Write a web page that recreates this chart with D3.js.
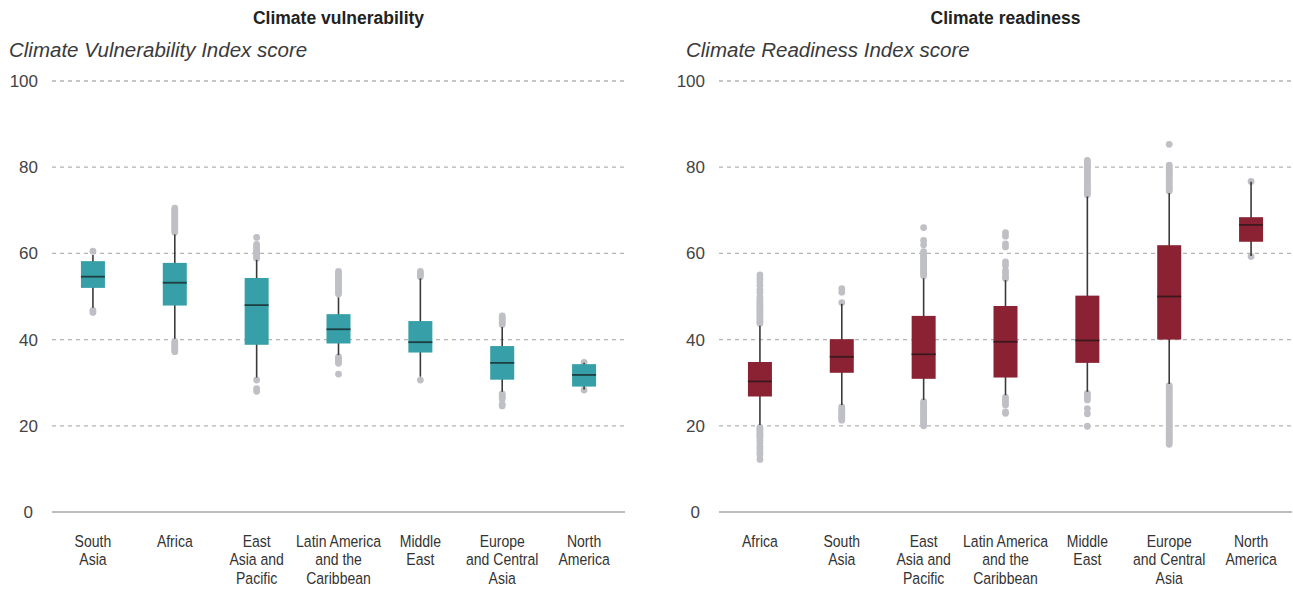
<!DOCTYPE html>
<html>
<head>
<meta charset="utf-8">
<script src="https://cdn.jsdelivr.net/npm/d3@7"></script>
<style>
  body { margin: 0; background: #fff; }
  svg { display: block; }
</style>
</head>
<body>
<svg id="chart" width="1293" height="590"></svg>
<script>
// ---------- DATA ----------
const vulnCategories = ["South Asia", "Africa", "East Asia and Pacific", "Latin America and the Caribbean", "Middle East", "Europe and Central Asia", "North America"];
const vulnLabels = [["South", "Asia"], ["Africa"], ["East", "Asia and", "Pacific"], ["Latin America", "and the", "Caribbean"], ["Middle", "East"], ["Europe", "and Central", "Asia"], ["North", "America"]];
const vulnQ1 =     [52.0, 47.9, 38.8, 39.1, 37.0, 30.7, 29.1];
const vulnMedian = [54.6, 53.2, 48.0, 42.4, 39.4, 34.6, 31.8];
const vulnQ3 =     [58.2, 57.8, 54.3, 45.9, 44.3, 38.5, 34.3];
const vulnLow =    [47.4, 40.2, 31.2, 36.4, 31.4, 27.9, 28.4];
const vulnHigh =   [59.6, 64.4, 58.5, 49.8, 54.2, 42.9, 34.6];
const vulnOutliers = [
  [60.5, 46.8, 46.3],
  [64.9, 65.3, 65.7, 66.1, 66.5, 66.9, 67.3, 67.7, 68.1, 68.5, 68.9, 69.3, 69.7, 70.1, 70.5, 39.6, 39.2, 38.8, 38.4, 38.0, 37.6, 37.2],
  [63.7, 62.1, 61.7, 61.3, 60.9, 60.5, 60.1, 59.7, 59.3, 58.9, 30.6, 28.6, 28.0],
  [55.8, 55.4, 55.0, 54.6, 54.2, 53.8, 53.4, 53.0, 52.6, 52.2, 51.8, 51.4, 51.0, 50.6, 36.0, 35.6, 35.2, 34.8, 34.5, 32.0],
  [55.8, 55.4, 55.0, 54.6, 30.6],
  [45.5, 45.1, 44.7, 44.3, 43.9, 43.5, 27.4, 27.0, 26.6, 26.2, 25.0, 24.6],
  [34.7, 28.3]
];

const readCategories = ["Africa", "South Asia", "East Asia and Pacific", "Latin America and the Caribbean", "Middle East", "Europe and Central Asia", "North America"];
const readLabels = [["Africa"], ["South", "Asia"], ["East", "Asia and", "Pacific"], ["Latin America", "and the", "Caribbean"], ["Middle", "East"], ["Europe", "and Central", "Asia"], ["North", "America"]];
const readQ1 =     [26.8, 32.3, 30.9, 31.2, 34.6, 40.0, 62.7];
const readMedian = [30.3, 36.0, 36.6, 39.5, 39.8, 50.0, 66.6];
const readQ3 =     [34.8, 40.1, 45.5, 47.8, 50.2, 61.9, 68.4];
const readLow =    [20.2, 24.8, 26.0, 27.1, 27.9, 29.7, 59.4];
const readHigh =   [43.2, 48.3, 54.2, 53.8, 73.2, 74.0, 76.6];
const readOutliers = [
  [43.8, 44.2, 44.6, 45.0, 45.4, 45.8, 46.2, 46.6, 47.0, 47.4, 47.8, 48.2, 48.6, 49.0, 49.4, 50.0, 51.0, 51.6, 52.6, 53.4, 54.2, 55.0,
   19.6, 19.2, 18.8, 18.4, 18.0, 17.6, 17.2, 16.6, 16.0, 15.2, 14.6, 13.8, 13.2, 12.2],
  [51.8, 51.0, 48.6, 24.4, 24.0, 23.6, 23.2, 22.8, 22.4, 22.0, 21.6, 21.3],
  [66.0, 63.0, 62.0, 60.4, 60.0, 59.6, 59.2, 58.8, 58.4, 58.0, 57.6, 57.2, 56.8, 56.4, 56.0, 55.6, 55.2, 54.8,
   25.6, 25.2, 24.8, 24.4, 24.0, 23.6, 23.2, 22.8, 22.4, 22.0, 21.6, 21.2, 20.8, 20.4, 20.0],
  [64.8, 64.0, 62.2, 61.5, 58.0, 57.2, 56.0, 55.4, 54.6, 54.2, 26.6, 26.0, 25.4, 24.8, 23.2, 22.9],
  [81.6, 81.2, 80.8, 80.4, 80.0, 79.6, 79.2, 78.8, 78.4, 78.0, 77.6, 77.2, 76.8, 76.4, 76.0, 75.6, 75.2, 74.8, 74.4, 74.0, 73.6,
   27.5, 27.0, 26.5, 26.0, 24.0, 22.8, 19.9],
  [85.3, 80.5, 80.1, 79.7, 79.3, 78.9, 78.5, 78.1, 77.7, 77.3, 76.9, 76.5, 76.1, 75.7, 75.3, 74.9, 74.5,
   29.3, 28.9, 28.5, 28.1, 27.7, 27.3, 26.9, 26.5, 26.1, 25.7, 25.3, 24.9, 24.5, 24.1, 23.7, 23.3, 22.9, 22.5, 22.1, 21.7, 21.3, 20.9, 20.5, 20.1, 19.7, 19.3, 18.9, 18.5, 18.1, 17.7, 17.3, 16.9, 16.5, 16.1, 15.7],
  [76.7, 59.3]
];

const yTicks = [0, 20, 40, 60, 80, 100];

// ---------- DRAW ----------
const svg = d3.select("#chart");
const yTop = 81, yBottom = 512;

function panel(opts) {
  const g = svg.append("g");
  const x = d3.scaleBand().domain(opts.categories).range([opts.x0, opts.x1]).paddingInner(0).paddingOuter(0);
  const y = d3.scaleLinear().domain([0, 100]).range([yBottom, yTop]);
  const cx = c => x(c) + x.bandwidth() / 2;
  const boxW = 24;

  // title
  g.append("text")
    .attr("x", (opts.x0 + opts.x1) / 2).attr("y", 24)
    .attr("text-anchor", "middle")
    .style("font-family", "'Liberation Sans', Arial, sans-serif")
    .style("font-weight", "bold").style("font-size", "17.5px").style("fill", "#222")
    .text(opts.title);

  // subtitle
  g.append("text")
    .attr("x", opts.subX).attr("y", 57)
    .style("font-family", "'Liberation Sans', Arial, sans-serif")
    .style("font-style", "italic").style("font-size", "20.5px").style("fill", "#3a3a3a")
    .text(opts.subtitle);

  // grid lines
  g.append("g").selectAll("line").data(yTicks.filter(t => t > 0)).join("line")
    .attr("x1", opts.x0).attr("x2", opts.x1)
    .attr("y1", d => y(d)).attr("y2", d => y(d))
    .attr("stroke", "#b4b4b4").attr("stroke-width", 1.3).attr("stroke-dasharray", "4,4");

  // baseline
  g.append("line")
    .attr("x1", opts.x0).attr("x2", opts.x1)
    .attr("y1", y(0)).attr("y2", y(0))
    .attr("stroke", "#a8a8a8").attr("stroke-width", 1.3);

  // y tick labels (axis)
  const yAxis = d3.axisLeft(y).tickValues(yTicks).tickSize(0).tickPadding(0).tickFormat(d3.format("d"));
  const ya = g.append("g").attr("transform", `translate(${opts.x0 - 14},0)`).call(yAxis);
  ya.select(".domain").remove();
  ya.selectAll("text")
    .style("font-family", "'Liberation Sans', Arial, sans-serif")
    .style("font-size", "17px").style("fill", "#444")
    .attr("dx", d => d === 0 ? -5 : 0);

  const idx = d3.range(opts.categories.length);

  // outliers
  idx.forEach(i => {
    g.append("g").selectAll("circle").data(opts.outliers[i]).join("circle")
      .attr("cx", cx(opts.categories[i])).attr("cy", d => y(d)).attr("r", 3.4)
      .attr("fill", "#bfc0c5");
  });

  // whiskers
  g.append("g").selectAll("line").data(idx).join("line")
    .attr("x1", i => cx(opts.categories[i])).attr("x2", i => cx(opts.categories[i]))
    .attr("y1", i => y(opts.low[i])).attr("y2", i => y(opts.high[i]))
    .attr("stroke", "#3a3a3a").attr("stroke-width", 1.6);

  // boxes
  g.append("g").selectAll("rect").data(idx).join("rect")
    .attr("x", i => cx(opts.categories[i]) - boxW / 2)
    .attr("width", boxW)
    .attr("y", i => y(opts.q3[i]))
    .attr("height", i => y(opts.q1[i]) - y(opts.q3[i]))
    .attr("fill", opts.color);

  // medians
  g.append("g").selectAll("line").data(idx).join("line")
    .attr("x1", i => cx(opts.categories[i]) - boxW / 2)
    .attr("x2", i => cx(opts.categories[i]) + boxW / 2)
    .attr("y1", i => y(opts.median[i])).attr("y2", i => y(opts.median[i]))
    .attr("stroke", opts.medianColor).attr("stroke-width", 1.8);

  // category labels (condensed via horizontal scale)
  const lab = g.append("g").selectAll("g").data(idx).join("g")
    .attr("transform", i => `translate(${cx(opts.categories[i])},547) scale(0.85,1)`)
    .append("text")
    .attr("x", 0).attr("y", 0)
    .attr("text-anchor", "middle")
    .style("font-family", "'Liberation Sans', Arial, sans-serif")
    .style("font-size", "16.5px").style("fill", "#333");
  lab.selectAll("tspan").data(i => opts.labels[i]).join("tspan")
    .attr("x", 0)
    .attr("dy", (d, j) => j === 0 ? 0 : 18.3)
    .text(d => d);
}

panel({
  categories: vulnCategories, labels: vulnLabels,
  q1: vulnQ1, median: vulnMedian, q3: vulnQ3, low: vulnLow, high: vulnHigh, outliers: vulnOutliers,
  x0: 52, x1: 625, subX: 9,
  title: "Climate vulnerability", subtitle: "Climate Vulnerability Index score",
  color: "#369fa8", medianColor: "#1e3f42"
});

panel({
  categories: readCategories, labels: readLabels,
  q1: readQ1, median: readMedian, q3: readQ3, low: readLow, high: readHigh, outliers: readOutliers,
  x0: 719, x1: 1292, subX: 686,
  title: "Climate readiness", subtitle: "Climate Readiness Index score",
  color: "#8a2233", medianColor: "#3b1a1f"
});
</script>
</body>
</html>
